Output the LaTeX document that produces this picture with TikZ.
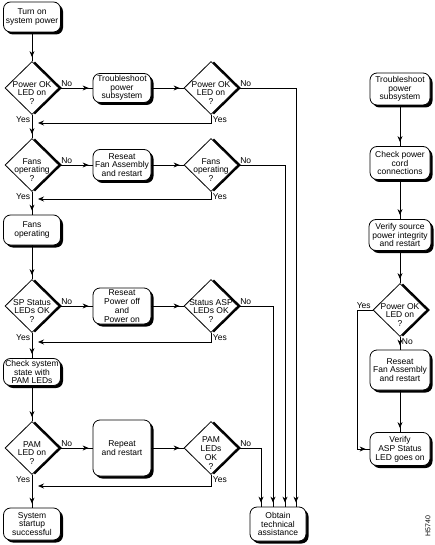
\documentclass[tikz,border=0pt]{standalone}
\usepackage{fontspec}
\setmainfont{Liberation Sans}
\usetikzlibrary{shapes.geometric,shadows,arrows.meta,decorations.markings}
\begin{document}
\begin{tikzpicture}[x=1pt,y=-1pt,inner sep=1pt,line width=0.8pt,
  font=\fontsize{8.5}{8.8}\selectfont,
  stepbox/.style={draw,fill=white,rounded corners=7pt,align=center,
    minimum width=57pt,minimum height=30pt,
    drop shadow={shadow xshift=2.5pt,shadow yshift=-2.5pt,fill=black,opacity=1}},
  query/.style={draw,fill=white,diamond,minimum width=54pt,minimum height=53pt,inner sep=0pt,
    drop shadow={shadow xshift=3pt,shadow yshift=0pt,fill=black,opacity=1}},
  ask/.style={label={[align=center,yshift=-5pt]center:#1}},
  flow/.style={postaction={decorate},decoration={markings,
    mark=at position -4pt with {\arrow{Stealth[length=6pt,width=5pt]}}}},
  back/.style={-{Stealth[length=6pt,width=5pt]},shorten >=6pt},
  tag/.style={inner sep=1.5pt}]

\useasboundingbox (0,0) rectangle (435,545);

\node[stepbox] (s1) at (32,17) {Turn on\\system power};

\node[query,ask={Power OK\\LED on\\?}] (d1) at (32,88) {};
\node[stepbox,minimum width=58pt,minimum height=29pt] (b1) at (122,88) {Troubleshoot\\power\\subsystem};
\node[query,ask={Power OK\\LED on\\?}] (d2) at (211,88) {};

\node[query,ask={Fans\\operating\\?}] (d3) at (32,165) {};
\node[stepbox,minimum width=58pt,minimum height=31pt] (b2) at (122,165) {Reseat\\Fan Assembly\\and restart};
\node[query,ask={Fans\\operating\\?}] (d4) at (211,165) {};

\node[stepbox] (s2) at (32,230) {Fans\\operating};

\node[query,ask={SP Status\\LEDs OK\\?}] (d5) at (32,306) {};
\node[stepbox,minimum width=58pt,minimum height=36pt] (b3) at (122,306) {Reseat\\Power off\\and\\Power on};
\node[query,ask={Status ASP\\LEDs OK\\?}] (d6) at (211,306) {};

\node[stepbox,minimum height=27pt] (s3) at (32,372) {Check system\\state with\\PAM LEDs};

\node[query,ask={PAM\\LED on\\?}] (d7) at (32,448) {};
\node[stepbox,minimum width=58pt,minimum height=56pt] (b4) at (122,448) {Repeat\\and restart};
\node[query,ask={PAM\\LEDs\\OK\\?}] (d8) at (211,448) {};

\node[stepbox,minimum height=32pt] (s4) at (32,524) {System\\startup\\successful};
\node[stepbox,minimum width=56pt,minimum height=34pt] (t1) at (278,524) {Obtain\\technical\\assistance};

\node[stepbox,minimum width=60pt,minimum height=32pt] (r1) at (400,89) {Troubleshoot\\power\\subsystem};
\node[stepbox,minimum width=60pt,minimum height=33pt] (r2) at (400,163) {Check power\\cord\\connections};
\node[stepbox,minimum width=62pt,minimum height=31pt] (r3) at (400,235) {Verify source\\power integrity\\and restart};
\node[query,ask={Power OK\\LED on\\?}] (rd) at (400,310) {};
\node[stepbox,minimum width=60pt,minimum height=40pt] (r4) at (400,370) {Reseat\\Fan Assembly\\and restart};
\node[stepbox,minimum width=60pt,minimum height=33pt] (r5) at (400,449) {Verify\\ASP Status\\LED goes on};

\node[rotate=90,font=\fontsize{7}{8}\selectfont] (fig) at (428,526) {H5740};

\coordinate (j1) at (32,123);
\coordinate (j2) at (32,199);
\coordinate (j3) at (32,342);
\coordinate (j4) at (32,486);

\draw[flow] (s1) -- (d1);
\draw[flow] (d1.east) -- node[pos=0,above right,tag]{No} (b1.west);
\draw[flow] (b1.east) -- (d2.west);
\draw[flow] (d2.east) -| node[pos=0,above right,tag]{No} ([xshift=18pt]t1.north);
\draw[back] (d2.south) |- node[pos=0,below right,tag]{Yes} (j1);
\draw[flow] (d1.south) -- node[pos=0,below left,tag]{Yes} (d3.north);

\draw[flow] (d3.east) -- node[pos=0,above right,tag]{No} (b2.west);
\draw[flow] (b2.east) -- (d4.west);
\draw[flow] (d4.east) -| node[pos=0,above right,tag]{No} ([xshift=7pt]t1.north);
\draw[back] (d4.south) |- node[pos=0,below right,tag]{Yes} (j2);
\draw[flow] (d3.south) -- node[pos=0,below left,tag]{Yes} (s2.north);

\draw[flow] (s2) -- (d5);
\draw[flow] (d5.east) -- node[pos=0,above right,tag]{No} (b3.west);
\draw[flow] (b3.east) -- (d6.west);
\draw[flow] (d6.east) -| node[pos=0,above right,tag]{No} ([xshift=-5pt]t1.north);
\draw[back] (d6.south) |- node[pos=0,below right,tag]{Yes} (j3);
\draw[flow] (d5.south) -- node[pos=0,below left,tag]{Yes} (s3.north);

\draw[flow] (s3) -- (d7);
\draw[flow] (d7.east) -- node[pos=0,above right,tag]{No} (b4.west);
\draw[flow] (b4.east) -- (d8.west);
\draw[flow] (d8.east) -| node[pos=0,above right,tag]{No} ([xshift=-17pt]t1.north);
\draw[back] (d8.south) |- node[pos=0,below right,tag]{Yes} (j4);
\draw[flow] (d7.south) -- node[pos=0,below left,tag]{Yes} (s4.north);

\draw[flow] (r1) -- (r2);
\draw[flow] (r2) -- (r3);
\draw[flow] (r3) -- (rd);
\draw[flow] (rd.south) -- node[pos=0,below right,tag]{No} (r4.north);
\draw[flow] (r4) -- (r5);
\draw[flow] (rd.west) -- node[pos=0,above left,tag]{Yes} ++(-15,0) |- (r5.west);

\end{tikzpicture}
\end{document}
